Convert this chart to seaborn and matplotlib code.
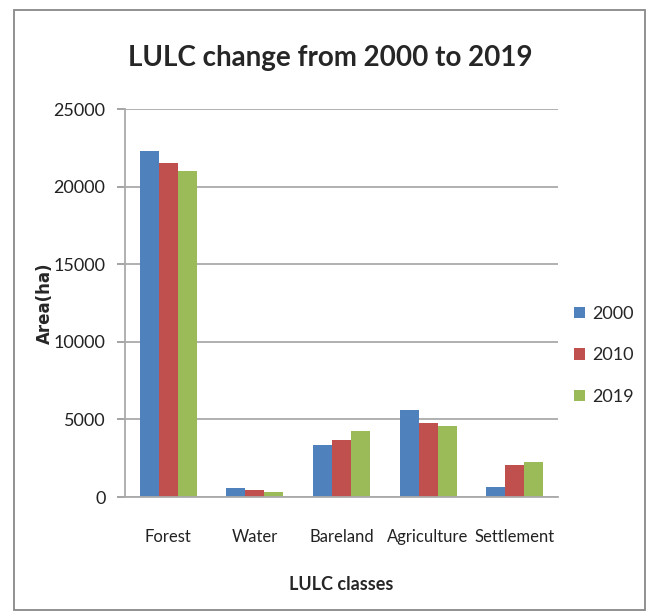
import matplotlib
matplotlib.use("Agg")
import matplotlib.pyplot as plt
import seaborn as sns
import pandas as pd
from matplotlib.patches import Rectangle

categories = ["Forest", "Water", "Bareland", "Agriculture", "Settlement"]
years = ["2000", "2010", "2019"]
area_2000 = [22300, 550, 3350, 5600, 650]
area_2010 = [21500, 470, 3700, 4750, 2050]
area_2019 = [21000, 320, 4280, 4560, 2240]
colors = ["#4F81BD", "#C0504D", "#9BBB59"]
yticks = [0, 5000, 10000, 15000, 20000, 25000]

rows = []
for yr, vals in zip(years, [area_2000, area_2010, area_2019]):
    for c, v in zip(categories, vals):
        rows.append({"LULC": c, "Year": yr, "Area": v})
df = pd.DataFrame(rows)

sns.set_theme(style="white")
plt.rcParams['font.family'] = ['Lato', 'DejaVu Sans']

fig = plt.figure(figsize=(6.51, 6.16), dpi=100)
ax = fig.add_axes([125/651, 1-497/616, (558-125)/651, (497-109)/616])

sns.barplot(data=df, x="LULC", y="Area", hue="Year", palette=colors,
            order=categories, hue_order=years, width=0.66, ax=ax,
            saturation=1, edgecolor="none", linewidth=0)

ax.set_ylim(0, 25000)
ax.set_yticks(yticks)
ax.set_yticklabels([str(t) for t in yticks], fontsize=13, color="#222222")
ax.set_xlim(-0.5, 4.5)
ax.tick_params(axis="x", labelsize=12, colors="#222222", length=0, pad=23)
ax.tick_params(axis="y", length=6, color="#999999", direction="out", left=True, pad=8)
ax.yaxis.grid(True, color="#aaaaaa", linewidth=1.3)
ax.set_axisbelow(True)
for s in ["top", "right"]:
    ax.spines[s].set_visible(False)
ax.spines["left"].set_color("#aaaaaa")
ax.spines["bottom"].set_color("#aaaaaa")
ax.spines["left"].set_linewidth(1.3)
ax.spines["bottom"].set_linewidth(1.3)

ax.set_xlabel("LULC classes", fontsize=13, fontweight="bold", labelpad=22)
ax.set_ylabel("Area(ha)", fontsize=12, fontweight="bold", labelpad=0, family="DejaVu Sans")
fig.text(330/651, 1 - 58/616, "LULC change from 2000 to 2019",
         fontsize=20, fontweight="bold", ha="center", va="center")

leg = ax.legend(loc="center left", bbox_to_anchor=(1.0, 0.365), frameon=False,
                fontsize=13, handlelength=0.6, handleheight=0.6, labelspacing=1.4,
                handletextpad=0.4, title=None)

fig.patches.append(Rectangle((14/651, 1 - 610/616), (645-14)/651, (610-10)/616,
                             transform=fig.transFigure, fill=False,
                             edgecolor="#888888", linewidth=1.3))

fig.savefig("out.png", dpi=100)
